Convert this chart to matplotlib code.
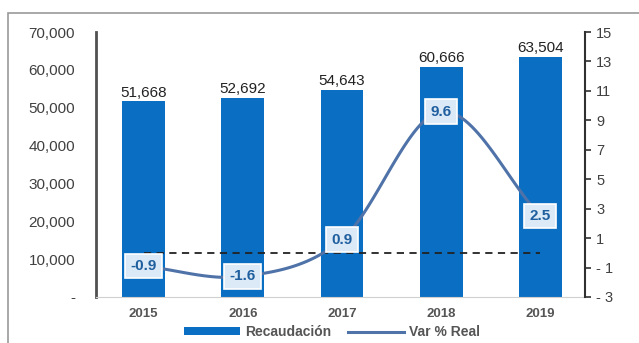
import numpy as np
import matplotlib.pyplot as plt
from matplotlib.patches import Rectangle

plt.rcParams["font.family"] = ["Liberation Sans", "DejaVu Sans"]

years = ["2015", "2016", "2017", "2018", "2019"]
recaudacion = [51668, 52692, 54643, 60666, 63504]
var_real = [-0.9, -1.6, 0.9, 9.6, 2.5]
left_ticks = [0, 10000, 20000, 30000, 40000, 50000, 60000, 70000]
right_ticks = [-3, -1, 1, 3, 5, 7, 9, 11, 13, 15]

BAR = "#0a6fc2"
LINE = "#4f73a8"
GRAY = "#404040"


def catmull_rom(x, y, n=30):
    # smooth curve through the points, like Excel's smoothed line
    x = np.asarray(x, float)
    y = np.asarray(y, float)
    px = np.concatenate([[2 * x[0] - x[1]], x, [2 * x[-1] - x[-2]]])
    py = np.concatenate([[2 * y[0] - y[1]], y, [2 * y[-1] - y[-2]]])
    xs, ys = [], []
    for i in range(1, len(px) - 2):
        t = np.linspace(0, 1, n)
        for p, out in ((px, xs), (py, ys)):
            p0, p1, p2, p3 = p[i - 1], p[i], p[i + 1], p[i + 2]
            out.extend(0.5 * (2 * p1 + (-p0 + p2) * t
                              + (2 * p0 - 5 * p1 + 4 * p2 - p3) * t ** 2
                              + (-p0 + 3 * p1 - 3 * p2 + p3) * t ** 3))
    return np.array(xs), np.array(ys)


fig = plt.figure(figsize=(6.39, 3.43), dpi=100)
fig.patches.append(Rectangle((8 / 639, -0.1), 1.0, 1 - 13 / 343 + 0.1,
                             transform=fig.transFigure, fill=False,
                             edgecolor="#9a9a9a", linewidth=1.2))

ax = fig.add_axes([96 / 639, 1 - 297 / 343, 489 / 639, 265 / 343])
x = np.arange(len(years))
bars = ax.bar(x, recaudacion, width=0.43, color=BAR, zorder=2)
for xi, v in zip(x, recaudacion):
    ax.text(xi, v + 500, f"{v:,}", ha="center", va="bottom",
            fontsize=11, color="#222222")

ax.set_xlim(-0.48, 4.45)
ax.set_ylim(0, 70000)
ax.set_yticks(left_ticks)
ax.set_yticklabels(["-"] + [f"{t:,}" for t in left_ticks[1:]])
ax.set_xticks(x)
ax.set_xticklabels(years, fontweight="bold")
ax.tick_params(axis="y", length=0, pad=15, labelsize=11, labelcolor=GRAY)
ax.tick_params(axis="x", length=0, pad=8, labelsize=9.5, labelcolor="#555555")
for s in ["top", "right"]:
    ax.spines[s].set_visible(False)
ax.spines["left"].set_color("#505050")
ax.spines["left"].set_linewidth(2)
ax.spines["bottom"].set_color("#d0d0d0")

ax2 = ax.twinx()
ax2.set_ylim(-3, 15)
ax2.set_yticks(right_ticks)
ax2.set_yticklabels([f"- {abs(t)}" if t < 0 else str(t) for t in right_ticks])
ax2.tick_params(axis="y", length=4, width=1.2, color="#303030",
                labelsize=10.5, labelcolor=GRAY, pad=4)
for s in ["top", "left", "bottom"]:
    ax2.spines[s].set_visible(False)
ax2.spines["right"].set_color("#303030")
ax2.spines["right"].set_linewidth(1.5)

ax2.plot(x, [0] * len(x), color="#222222", linestyle=(0, (4, 3)),
         linewidth=1.3, zorder=3)
sx, sy = catmull_rom(x, var_real)
curve, = ax2.plot(sx, sy, color=LINE, linewidth=2.2, zorder=4)
for xi, v in zip(x, var_real):
    ax2.text(xi, v, f"{v:.1f}", ha="center", va="center", fontsize=11,
             fontweight="bold", color="#1f5f9f", zorder=5,
             bbox=dict(boxstyle="square,pad=0.35", facecolor="#dce9f6",
                       edgecolor="white", linewidth=1.2))

fig.legend([bars, curve], ["Recaudación", "Var % Real"], loc="lower center",
           bbox_to_anchor=(0.52, -0.025), ncol=2, frameon=False,
           prop={"weight": "bold", "size": 10}, labelcolor="#555555",
           handlelength=4, handleheight=0.5, handletextpad=0.4,
           columnspacing=1.2)

fig.savefig("out.png", dpi=100)
